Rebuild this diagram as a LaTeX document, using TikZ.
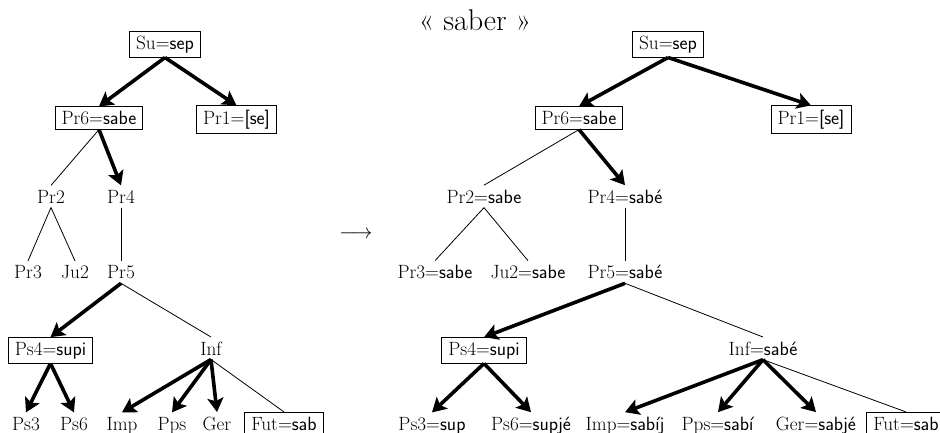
\documentclass[tikz,border=0pt]{standalone}
\usepackage{fontspec}
\usetikzlibrary{arrows.meta}
\newcommand\myl[2]{#1=\textsf{#2}}
\begin{document}
\begin{tikzpicture}[x=1pt,y=-1pt,
  every node/.style={font=\fontsize{19.2}{22}\selectfont, inner xsep=6.5pt, inner ysep=4.3pt, anchor=base},
  boxed/.style={draw, line width=0.9pt},
  strong/.style={line width=3.6pt, -{Stealth[length=14pt,width=16pt,inset=3pt]}},
  weak/.style={line width=0.8pt}]
\useasboundingbox (0,0) rectangle (940,432);

% title and arrow
\node[font=\fontsize{30}{34}\selectfont] (title) at (475,30) {« saber »};
\node (arr) at (356,238.5) {$\longrightarrow$};

% left tree
\node[boxed] (su) at (165,49) {\myl{Su}{sep}};
\node[boxed] (pr6) at (99,124.5) {\myl{Pr6}{sabe}};
\node[boxed] (pr1) at (236.5,124.5) {\myl{Pr1}{[se]}};
\node (pr2) at (51,203) {Pr2};
\node (pr4) at (121,203) {Pr4};
\node (pr3) at (28,278.5) {Pr3};
\node (ju2) at (75,278.5) {Ju2};
\node (pr5) at (121,278.5) {Pr5};
\node[boxed] (ps4) at (50.5,355) {\myl{Ps4}{supi}};
\node (inf) at (211,355) {Inf};
\node (ps3) at (26,430) {Ps3};
\node (ps6) at (74,430) {Ps6};
\node (imp) at (122,430) {Imp};
\node (pps) at (172,430) {Pps};
\node (ger) at (217,430) {Ger};
\node[boxed] (fut) at (284,430) {\myl{Fut}{sab}};

\draw[strong] (su.south) -- (pr6.north);
\draw[strong] (su.south) -- (pr1.north);
\draw[weak] (pr6.south) -- (pr2.north);
\draw[strong] (pr6.south) -- (pr4.north);
\draw[weak] (pr2.south) -- (pr3.north);
\draw[weak] (pr2.south) -- (ju2.north);
\draw[weak] (pr4.south) -- (pr5.north);
\draw[strong] (pr5.south) -- (ps4.north);
\draw[weak] (pr5.south) -- (inf.north);
\draw[strong] (ps4.south) -- (ps3.north);
\draw[strong] (ps4.south) -- (ps6.north);
\draw[strong] (inf.south) -- (imp.north);
\draw[strong] (inf.south) -- (pps.north);
\draw[strong] (inf.south) -- (ger.north);
\draw[weak] (inf.south) -- (fut.north);

% right tree
\node[boxed] (rsu) at (668,49) {\myl{Su}{sep}};
\node[boxed] (rpr6) at (579,124.5) {\myl{Pr6}{sabe}};
\node[boxed] (rpr1) at (811,124.5) {\myl{Pr1}{[se]}};
\node (rpr2) at (484,203) {\myl{Pr2}{sabe}};
\node (rpr4) at (625,203) {\myl{Pr4}{sabé}};
\node (rpr3) at (435,278.5) {\myl{Pr3}{sabe}};
\node (rju2) at (528,278.5) {\myl{Ju2}{sabe}};
\node (rpr5) at (625,278.5) {\myl{Pr5}{sabé}};
\node[boxed] (rps4) at (484,355) {\myl{Ps4}{supi}};
\node (rinf) at (763,355) {\myl{Inf}{sabé}};
\node (rps3) at (432,430) {\myl{Ps3}{sup}};
\node (rps6) at (531,430) {\myl{Ps6}{supjé}};
\node (rimp) at (625,430) {\myl{Imp}{sabíj}};
\node (rpps) at (718,430) {\myl{Pps}{sabí}};
\node (rger) at (816,430) {\myl{Ger}{sabjé}};
\node[boxed] (rfut) at (906,430) {\myl{Fut}{sab}};

\draw[strong] (rsu.south) -- (rpr6.north);
\draw[strong] (rsu.south) -- (rpr1.north);
\draw[weak] (rpr6.south) -- (rpr2.north);
\draw[strong] (rpr6.south) -- (rpr4.north);
\draw[weak] (rpr2.south) -- (rpr3.north);
\draw[weak] (rpr2.south) -- (rju2.north);
\draw[weak] (rpr4.south) -- (rpr5.north);
\draw[strong] (rpr5.south) -- (rps4.north);
\draw[weak] (rpr5.south) -- (rinf.north);
\draw[strong] (rps4.south) -- (rps3.north);
\draw[strong] (rps4.south) -- (rps6.north);
\draw[strong] (rinf.south) -- (rimp.north);
\draw[strong] (rinf.south) -- (rpps.north);
\draw[strong] (rinf.south) -- (rger.north);
\draw[weak] (rinf.south) -- (rfut.north);
\end{tikzpicture}
\end{document}
